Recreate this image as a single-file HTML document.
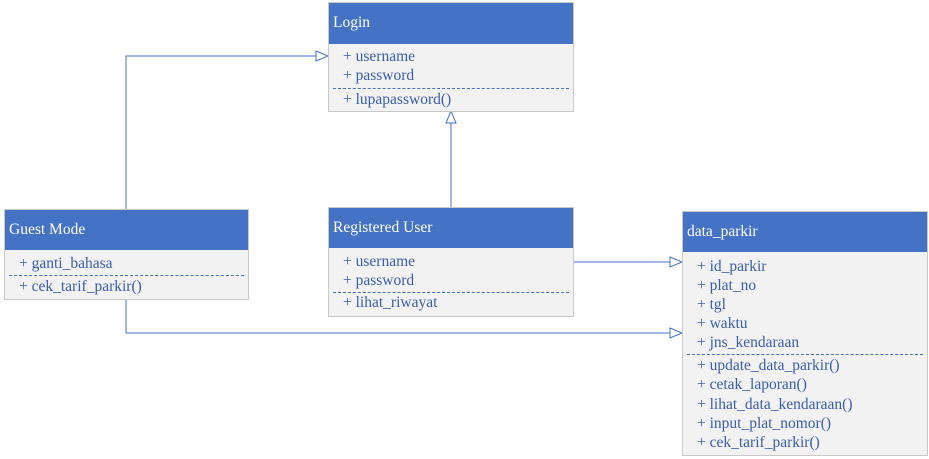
<!DOCTYPE html>
<html><head><meta charset="utf-8"><style>
body{margin:0;width:929px;height:459px;background:#fff;position:relative;overflow:hidden;font-family:"Liberation Serif",serif;}
.box{position:absolute;background:#f2f2f2;border:1px solid #c8c8c8;box-sizing:border-box;}
.hd{position:absolute;left:0;right:0;top:0;background:#4472c4;color:#fff;font-size:15.5px;padding-left:4px;box-sizing:border-box;}
.t{position:absolute;color:#3a5ea8;font-size:15.5px;white-space:pre;line-height:16px;}
.dash{position:absolute;left:4px;right:4px;border-top:1px dashed #4472c4;}
</style></head><body>
<svg width="929" height="459" style="position:absolute;left:0;top:0">
<g fill="none" stroke="#4472c4" stroke-width="1">
<polyline points="126,209 126,56 316,56"/>
<polygon points="316,51 328,56 316,61" fill="#fff"/>
<line x1="451" y1="207" x2="451" y2="123"/>
<polygon points="446,123 451,111 456,123" fill="#fff"/>
<line x1="573" y1="262" x2="670" y2="262"/>
<polygon points="670,257 682,262 670,267" fill="#fff"/>
<polyline points="126,299 126,333 670,333"/>
<polygon points="670,328 682,333 670,338" fill="#fff"/>
</g></svg>

<div class="box" style="left:328px;top:2px;width:246px;height:110px">
<div class="hd" style="height:41px;line-height:40px">Login</div>
<div class="t" style="left:14px;top:46px">+ username</div>
<div class="t" style="left:14px;top:65px">+ password</div>
<div class="dash" style="top:85px"></div>
<div class="t" style="left:14px;top:89px">+ lupapassword()</div>
</div>

<div class="box" style="left:4px;top:209px;width:245px;height:91px">
<div class="hd" style="height:40px;line-height:40px">Guest Mode</div>
<div class="t" style="left:14px;top:46px">+ ganti_bahasa</div>
<div class="dash" style="top:65px"></div>
<div class="t" style="left:14px;top:69px">+ cek_tarif_parkir()</div>
</div>

<div class="box" style="left:328px;top:207px;width:246px;height:110px">
<div class="hd" style="height:40px;line-height:40px">Registered User</div>
<div class="t" style="left:14px;top:46px">+ username</div>
<div class="t" style="left:14px;top:65px">+ password</div>
<div class="dash" style="top:84px"></div>
<div class="t" style="left:14px;top:87px">+ lihat_riwayat</div>
</div>

<div class="box" style="left:682px;top:211px;width:246px;height:245px">
<div class="hd" style="height:40px;line-height:40px">data_parkir</div>
<div class="t" style="left:14px;top:47px">+ id_parkir</div>
<div class="t" style="left:14px;top:66px">+ plat_no</div>
<div class="t" style="left:14px;top:85px">+ tgl</div>
<div class="t" style="left:14px;top:104px">+ waktu</div>
<div class="t" style="left:14px;top:123px">+ jns_kendaraan</div>
<div class="dash" style="top:142px"></div>
<div class="t" style="left:14px;top:146px">+ update_data_parkir()</div>
<div class="t" style="left:14px;top:165px">+ cetak_laporan()</div>
<div class="t" style="left:14px;top:185px">+ lihat_data_kendaraan()</div>
<div class="t" style="left:14px;top:204px">+ input_plat_nomor()</div>
<div class="t" style="left:14px;top:223px">+ cek_tarif_parkir()</div>
</div>
</body></html>
